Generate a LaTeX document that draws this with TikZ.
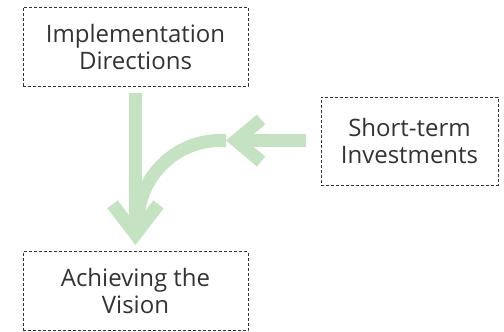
\documentclass[tikz,border=0pt]{standalone}
\usepackage{fontspec}
\setmainfont{Open Sans}
\usetikzlibrary{arrows.meta}
\definecolor{leaf}{HTML}{C5E3C3}
\definecolor{ink}{HTML}{333333}
\tikzset{
  stage/.style={draw=ink, line width=0.9pt, dash pattern=on 3pt off 2pt,
    minimum width=225pt, minimum height=79pt, inner sep=0pt, align=center,
    text=ink, font=\fontsize{24}{27}\selectfont},
  flow/.style={draw=leaf, line width=13pt},
  bigbarb/.tip={Straight Barb[length=30pt, width=46pt]},
  smallbarb/.tip={Straight Barb[length=25pt, width=42pt]}
}
\begin{document}
\begin{tikzpicture}[x=1pt,y=-1pt]
  \useasboundingbox (0,0) rectangle (504,332);
  % boxes
  \node[stage] (impl) at (135.5,46.5) {Implementation\\Directions};
  \node[stage, minimum width=177pt, minimum height=88pt] (short) at (409.5,141) {Short-term\\Investments};
  \node[stage] (vision) at (135.5,291) {Achieving the\\Vision};
  \coordinate (bend) at (226,140.5);
  % arrows
  \draw[flow, shorten <=15pt, -{smallbarb}] (short.west|-bend) -- (bend);
  \draw[flow] (bend) -- (220,140.5) .. controls (175,140.5) and (138,177.5) .. (138,222.5) -- (137,232);
  \draw[flow, shorten <=7pt, shorten >=6pt, -{bigbarb}] (impl.south) -- (vision.north);
\end{tikzpicture}
\end{document}
